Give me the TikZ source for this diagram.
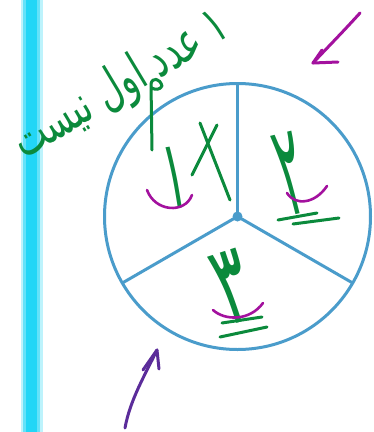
\documentclass[tikz,border=0pt]{standalone}
\usepackage{fontspec}
\newfontfamily\fa[Script=Arabic]{DejaVu Sans}
\newfontfamily\fab[Script=Arabic]{DejaVu Sans Bold}
\TeXXeTstate=1
\definecolor{ink}{HTML}{0B8A3C}
\definecolor{mag}{HTML}{A3119E}
\definecolor{purp}{HTML}{5B2C9A}
\definecolor{wheel}{HTML}{4A9CCB}
\definecolor{barc}{HTML}{22D6F6}
\begin{document}
\begin{tikzpicture}[x=1pt,y=-1pt,
  hand/.style={draw=ink,line width=3pt,line cap=round,line join=round},
  arcmark/.style={draw=mag,line width=2.6pt,line cap=round},
  spoke/.style={draw=wheel,line width=3pt},
  digit/.style={text=ink,inner sep=0pt}]
\useasboundingbox (0,0) rectangle (374,432);
\fill[white] (0,0) rectangle (374,432);
% cyan bar
\fill[barc!30] (21,0) rectangle (43,432);
\fill[barc!70] (23,0) rectangle (40,432);
\fill[barc] (26,0) rectangle (37,432);
% wheel
\coordinate (c) at (237.5,216.5);
\coordinate (t) at (237.5,83.5);
\coordinate (l) at (122.3,283);
\coordinate (r) at (352.7,283);
\draw[spoke] (c) circle[radius=133];
\draw[spoke] (c) -- (t);
\draw[spoke] (c) -- (l);
\draw[spoke] (c) -- (r);
\fill[wheel] (c) circle[radius=5];
% handwritten note
\node[digit,rotate=31] (note) at (121,86) {\resizebox{242pt}{!}{\scalebox{1}[1.5]{\fa\beginR ۱ عدد اول نیست\endR}}};
% left sector
\node[digit,rotate=9] (one) at (175,178) {\resizebox{14pt}{62pt}{\fab ۱}};
\draw[hand] (152,150) -- (151,84) .. controls (152,77) and (160,78) .. (162,86) .. controls (160,90) and (155,90) .. (152,88);
\draw[hand] (200,123) -- (230,200);
\draw[hand] (217,125) .. controls (205,150) .. (192,175);
\draw[arcmark] (147,190) .. controls (155,212) and (185,214) .. (192,195);
% right sector
\node[digit,rotate=14] (two) at (291,174) {\resizebox{26pt}{82pt}{\fa ۲}};
\draw[arcmark] (287,193) .. controls (295,206) and (315,204) .. (327,186);
\draw[hand] (278,220) -- (317,213);
\draw[hand] (293,224) -- (339,218);
% bottom sector
\node[digit,rotate=18] (three) at (233,287) {\resizebox{34pt}{72pt}{\fa ۳}};
\draw[arcmark] (213,310) .. controls (225,321) and (250,321) .. (263,303);
\draw[hand] (222,323) -- (262,317);
\draw[hand] (220,337) -- (267,327);
% arrows
\coordinate (m1) at (360,13);
\coordinate (m2) at (313,63);
\draw[draw=mag,line width=3pt,line cap=round,line join=round] (m1) .. controls (340,35) and (325,50) .. (m2);
\draw[draw=mag,line width=3pt,line cap=round,line join=round] (322,50) -- (m2) -- (338,62);
\coordinate (p1) at (125,428);
\coordinate (p2) at (157,350);
\draw[draw=purp,line width=3pt,line cap=round,line join=round] (p1) .. controls (130,400) and (145,375) .. (p2);
\draw[draw=purp,line width=3pt,line cap=round,line join=round] (143,370) -- (p2) -- (159,369);
\end{tikzpicture}
\end{document}
